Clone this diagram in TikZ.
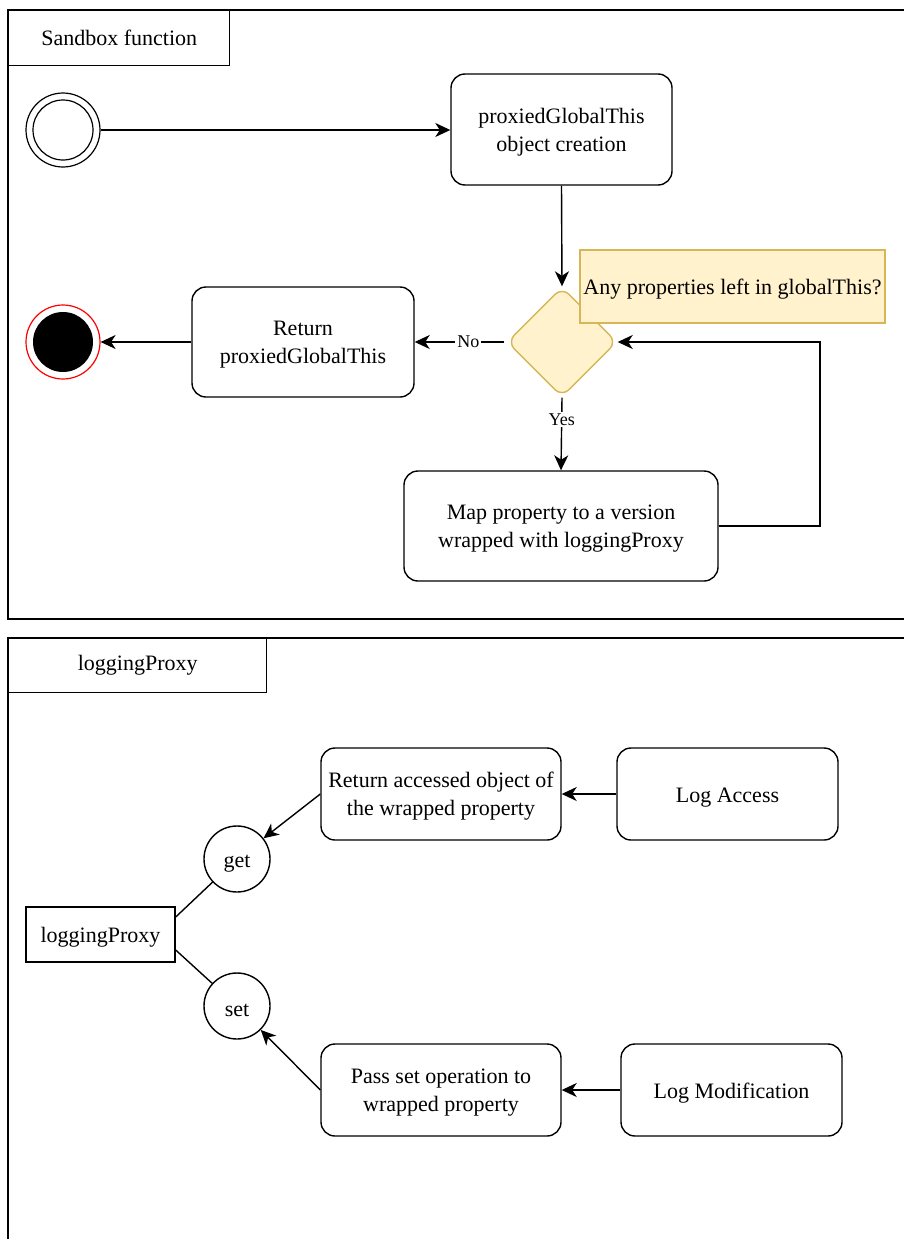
\documentclass[tikz,border=0pt]{standalone}
\usepackage{fontspec}
\setmainfont{Liberation Serif}
\usetikzlibrary{arrows.meta,shapes.geometric}
\definecolor{notefill}{HTML}{FFF2CC}
\definecolor{notedraw}{HTML}{D6B656}
\definecolor{endred}{HTML}{FF0000}
\tikzset{
  base/.style={line width=1.4pt, font=\fontsize{22}{28}\selectfont, align=center, inner sep=0pt},
  lift/.style={execute at begin node={\rule{0pt}{21pt}}},
  act/.style={base, lift, draw, rounded corners=14pt},
  act2/.style={base, text depth=-3.5pt, draw, rounded corners=14pt},
  tab/.style={base, draw, minimum height=55pt, anchor=north west},
  plain/.style={base, lift, draw},
  bubble/.style={base, lift, draw, circle, minimum size=66pt},
  flow/.style={line width=1.4pt, -{Stealth[length=15pt,width=14pt,inset=4.5pt]}},
  link/.style={line width=1.4pt},
  guard/.style={font=\fontsize{18}{20}\selectfont, fill=white, inner sep=2pt}
}
\begin{document}
\begin{tikzpicture}[x=1pt,y=-1pt]
\useasboundingbox (0,0) rectangle (904,1239);
\clip (0,0) rectangle (904,1239);

% Swimlane frames
\draw[line width=1.4pt] (8,10) rectangle (920,619);
\draw[line width=1.4pt] (920,638) -- (8,638) -- (8,1260);
\node[tab, minimum width=221pt] (lane1) at (8,10) {Sandbox function};
\node[tab, minimum width=258pt, minimum height=54pt] (lane2) at (8,638) {loggingProxy};

% Sandbox function flow
\node[draw, circle, line width=1.2pt, minimum size=74pt, inner sep=0pt] (start) at (63,130) {};
\node[draw, circle, line width=1.2pt, minimum size=60pt, inner sep=0pt] at (63,130) {};
\node[act2, minimum width=221pt, minimum height=111pt] (create) at (561.5,129.5) {proxiedGlobalThis\\object creation};
\node[diamond, draw=notedraw, fill=notefill, line width=1.4pt, minimum width=110pt, minimum height=110pt,
      inner sep=0pt, rounded corners=10pt] (dec) at (562,342) {};
\node[base, lift, draw=notedraw, fill=notefill, minimum width=305pt, minimum height=73pt] (note) at (732.5,286.5)
      {Any properties left in globalThis?};
\node[act2, minimum width=222pt, minimum height=110pt] (ret) at (303,342) {Return\\proxiedGlobalThis};
\node[act2, minimum width=314pt, minimum height=110pt] (map) at (561,526) {Map property to a version\\wrapped with loggingProxy};
\node[draw=endred, circle, line width=1.2pt, minimum size=74pt, inner sep=0pt] (end) at (63,342) {};
\node[fill=black, circle, minimum size=60pt, inner sep=0pt] at (63,342) {};

\draw[flow] (start) -- (create.west |- start);
\draw[flow] (create.south) -- (dec.north);
\draw[flow] ([xshift=-2pt]dec.west) -- node[guard, pos=0.4] {No} (ret.east);
\draw[flow] (ret.west) -- (end);
\draw[flow] (dec.south) -- node[guard, pos=0.3] {Yes} (map.north);
\coordinate (loopR) at (820,526);
\draw[flow] (map.east) -- (loopR) -- (loopR |- dec) -- (dec.east);

% loggingProxy handlers
\node[act2, minimum width=240pt, minimum height=92pt] (access) at (441,794) {Return accessed object of\\the wrapped property};
\node[act, minimum width=221pt, minimum height=92pt] (logacc) at (727.5,794) {Log Access};
\node[bubble] (get) at (237,859) {get};
\node[plain, minimum width=149pt, minimum height=55pt] (lp) at (100.5,934.5) {loggingProxy};
\node[bubble] (set) at (237,1006) {set};
\node[act2, minimum width=240pt, minimum height=92pt] (pass) at (441,1090) {Pass set operation to\\wrapped property};
\node[act, minimum width=221pt, minimum height=92pt] (logmod) at (731.5,1090) {Log Modification};

\draw[flow] (logacc.west) -- (access.east);
\draw[flow] (access.west) -- (get);
\draw[link] ([yshift=17.5pt]lp.east) -- (get);
\draw[link] ([yshift=-15.5pt]lp.east) -- (set);
\draw[flow] (logmod.west) -- (pass.east);
\draw[flow] (pass.west) -- (set);
\end{tikzpicture}
\end{document}
